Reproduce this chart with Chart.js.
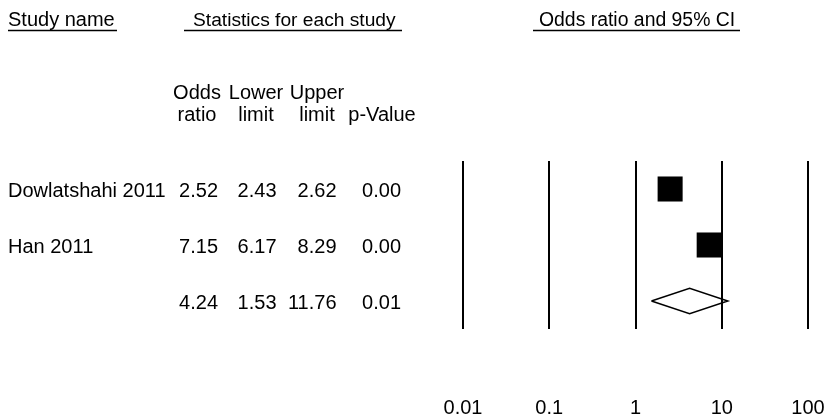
<!DOCTYPE html>
<html>
<head>
<meta charset="utf-8">
<script src="https://cdn.jsdelivr.net/npm/chart.js@4/dist/chart.umd.min.js"></script>
<style>
  html, body { margin: 0; padding: 0; background: #fff; overflow: hidden; }
  canvas { display: block; }
</style>
</head>
<body>
<canvas id="c" width="828" height="419" style="width:828px;height:419px"></canvas>
<script>
// ---- data ----
const studyNames = ['Dowlatshahi 2011', 'Han 2011'];
const oddsRatio = [2.52, 7.15];
const lowerLimit = [2.43, 6.17];
const upperLimit = [2.62, 8.29];
const pValue = [0.00, 0.00];
const summaryStats = [4.24, 1.53, 11.76, 0.01]; // odds ratio, lower, upper, p
const tickValues = [0.01, 0.1, 1, 10, 100];
const tickLabels = ['0.01', '0.1', '1', '10', '100'];
const headerTitles = ['Study name', 'Statistics for each study', 'Odds ratio and 95% CI'];
const columnHeadTop = ['Odds', 'Lower', 'Upper', ''];
const columnHeadBottom = ['ratio', 'limit', 'limit', 'p-Value'];

// ---- style constants ----
const FONT = '"Liberation Sans", Arial, sans-serif';
const FS = 20;
const SQUARE_RADIUS = 17.7;     // rect half side = r * sqrt(1/2)
const DIAMOND_HALF = 0.227;     // in row units

Chart.defaults.font.family = FONT;
Chart.defaults.color = '#000';

const datasets = [];
datasets.push({
  label: 'studies',
  data: oddsRatio.map((v, i) => ({ x: v, y: i })),
  pointStyle: 'rect',
  pointRadius: SQUARE_RADIUS,
  backgroundColor: '#000',
  borderWidth: 0,
  showLine: false,
  order: 0
});
studyNames.forEach((n, i) => {
  datasets.push({
    label: 'ci' + i,
    data: [{ x: lowerLimit[i], y: i }, { x: upperLimit[i], y: i }],
    showLine: true,
    pointRadius: 0,
    borderColor: '#000',
    borderWidth: 1,
    order: 2
  });
});
const sy = studyNames.length;
datasets.push({
  label: 'summary',
  data: [
    { x: summaryStats[1], y: sy },
    { x: summaryStats[0], y: sy - DIAMOND_HALF },
    { x: summaryStats[2], y: sy },
    { x: summaryStats[0], y: sy + DIAMOND_HALF },
    { x: summaryStats[1], y: sy }
  ],
  showLine: true,
  pointRadius: 0,
  borderColor: '#000',
  borderWidth: 1.5,
  fill: false,
  tension: 0,
  order: 1
});

const textPlugin = {
  id: 'tableText',
  afterDraw(chart) {
    const ctx = chart.ctx;
    const y = chart.scales.y;
    ctx.save();
    ctx.fillStyle = '#000';
    ctx.strokeStyle = '#000';
    ctx.textBaseline = 'alphabetic';

    const titleX = [8, 193, 539];
    const titleSize = [20, 19.2, 19.4];
    const ulines = [[8, 117], [184, 402], [533, 740]];
    headerTitles.forEach((t, i) => {
      ctx.font = titleSize[i] + 'px ' + FONT;
      ctx.textAlign = 'left';
      ctx.fillText(t, titleX[i], 25.5);
      ctx.lineWidth = 1.5;
      ctx.beginPath();
      ctx.moveTo(ulines[i][0], 30.5);
      ctx.lineTo(ulines[i][1], 30.5);
      ctx.stroke();
    });

    ctx.font = FS + 'px ' + FONT;
    const colCenter = [197, 256, 317, 382];
    ctx.textAlign = 'center';
    columnHeadTop.forEach((t, i) => { if (t) ctx.fillText(t, colCenter[i], 99); });
    columnHeadBottom.forEach((t, i) => ctx.fillText(t, colCenter[i], 121));

    const colRight = [218, 276.5, 336.5, 401];
    const rows = studyNames.map((n, i) => [n, oddsRatio[i], lowerLimit[i], upperLimit[i], pValue[i]]);
    rows.push(['', summaryStats[0], summaryStats[1], summaryStats[2], summaryStats[3]]);
    rows.forEach((r, i) => {
      const base = y.getPixelForValue(i) + 8;
      ctx.textAlign = 'left';
      if (r[0]) ctx.fillText(r[0], 8, base);
      ctx.textAlign = 'right';
      for (let k = 1; k < 5; k++) ctx.fillText(r[k].toFixed(2), colRight[k - 1], base);
    });
    ctx.restore();
  }
};

new Chart(document.getElementById('c'), {
  type: 'scatter',
  data: { datasets },
  options: {
    responsive: false,
    maintainAspectRatio: false,
    devicePixelRatio: 1,
    animation: false,
    events: [],
    layout: { padding: { left: 463, right: 20, top: 161, bottom: 0 } },
    plugins: { legend: { display: false }, tooltip: { enabled: false } },
    scales: {
      x: {
        type: 'logarithmic',
        min: tickValues[0],
        max: tickValues[tickValues.length - 1],
        position: 'bottom',
        afterBuildTicks: (s) => { s.ticks = tickValues.map(v => ({ value: v })); },
        afterFit: (s) => { s.height = 90; s.paddingLeft = 0; s.paddingRight = 0; },
        grid: { display: true, color: '#000', lineWidth: 2, drawTicks: false, drawOnChartArea: true },
        border: { display: false },
        ticks: {
          padding: 67,
          maxRotation: 0,
          minRotation: 0,
          autoSkip: false,
          color: '#000',
          font: { size: FS, family: FONT },
          callback: (v, i) => tickLabels[i]
        }
      },
      y: {
        type: 'linear',
        min: -0.5,
        max: studyNames.length + 0.5,
        reverse: true,
        display: false
      }
    }
  },
  plugins: [textPlugin]
});
</script>
</body>
</html>
